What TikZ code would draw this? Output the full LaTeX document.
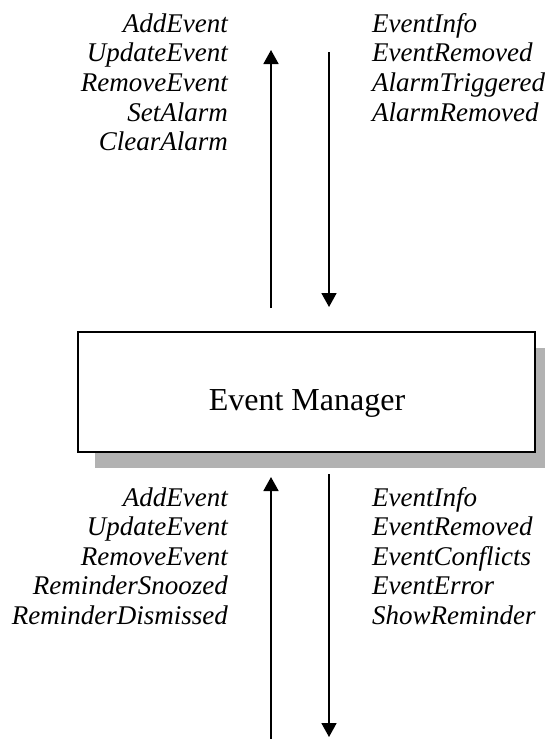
\documentclass[tikz,border=0pt]{standalone}
\usepackage{fontspec}
\setmainfont{Liberation Serif}
\usetikzlibrary{arrows.meta}
\definecolor{shadowgray}{rgb}{0.70,0.70,0.70}
\tikzset{
  msg/.style={font=\fontsize{27}{30}\selectfont\itshape, inner sep=0pt},
  flow/.style={line width=1.8pt, -{Triangle[length=14pt,width=15pt]}},
  manager/.style={draw, line width=2pt, fill=white, minimum width=457pt,
    minimum height=120pt, inner sep=0pt},
  title/.style={font=\fontsize{32}{36}\selectfont, inner sep=0pt},
}
\begin{document}
\begin{tikzpicture}[x=1pt,y=-1pt]
  \useasboundingbox (0,0) rectangle (545,739);

  % drop shadow behind the manager box (runs off the right edge)
  \begin{scope}
    \clip (0,0) rectangle (545,739);
    \fill[shadowgray] (95,348) rectangle (551,468);
  \end{scope}
  \node[manager] (mgr) at (306.5,392) {};
  \node[title, anchor=base] (mgrlabel) at (307,410) {Event Manager};

  % upper interface
  \coordinate (upTop) at (271,50);
  \coordinate (dnTopStart) at (329,52);
  \draw[flow] (271,308) coordinate (upTopStart) -- (upTop);
  \draw[flow] (dnTopStart) -- (329,307) coordinate (dnTop);

  \foreach \t [count=\i] in {AddEvent,UpdateEvent,RemoveEvent,SetAlarm,ClearAlarm}
    \node[msg, anchor=base east] (ul\i) at (228,{32+29.7*(\i-1)}) {\t};
  \foreach \t [count=\i] in {EventInfo,EventRemoved,AlarmTriggered,AlarmRemoved}
    \node[msg, anchor=base west] (ur\i) at (372,{32+29.7*(\i-1)}) {\t};

  % lower interface
  \coordinate (upBotStart) at (271,739);
  \coordinate (dnBotStart) at (329,474);
  \draw[flow] (upBotStart) -- (271,477) coordinate (upBot);
  \draw[flow] (dnBotStart) -- (329,737) coordinate (dnBot);

  \foreach \t [count=\i] in {AddEvent,UpdateEvent,RemoveEvent,ReminderSnoozed,ReminderDismissed}
    \node[msg, anchor=base east] (ll\i) at (228,{506+29.5*(\i-1)}) {\t};
  \foreach \t [count=\i] in {EventInfo,EventRemoved,EventConflicts,EventError,ShowReminder}
    \node[msg, anchor=base west] (lr\i) at (372,{506+29.5*(\i-1)}) {\t};
\end{tikzpicture}
\end{document}
